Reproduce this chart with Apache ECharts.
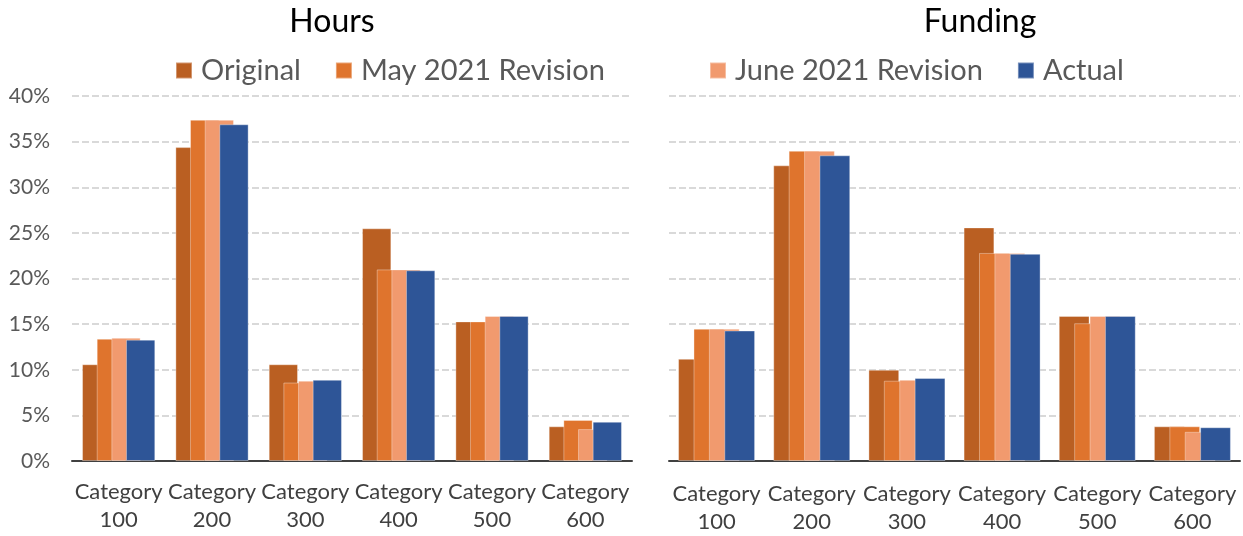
<!DOCTYPE html>
<html>
<head>
<meta charset="utf-8">
<script src="https://cdn.jsdelivr.net/npm/echarts@6/dist/echarts.min.js"></script>
<style>
  html, body { margin: 0; padding: 0; background: #fff; }
  #chart { width: 1243px; height: 536px; }
</style>
</head>
<body>
<div id="chart"></div>
<script>
// categories and values (percent)
const categories = ['Category 100', 'Category 200', 'Category 300', 'Category 400', 'Category 500', 'Category 600'];
const seriesNames = ['Original', 'May 2021 Revision', 'June 2021 Revision', 'Actual'];
const yTicks = [0, 5, 10, 15, 20, 25, 30, 35, 40];

const hoursOriginal = [10.6, 34.4, 10.6, 25.5, 15.3, 3.8];
const hoursMay      = [13.4, 37.4, 8.6, 21.0, 15.3, 4.5];
const hoursJune     = [13.5, 37.4, 8.8, 21.0, 15.9, 3.5];
const hoursActual   = [13.3, 36.9, 8.9, 20.9, 15.9, 4.3];

const fundOriginal = [11.2, 32.4, 10.0, 25.6, 15.9, 3.8];
const fundMay      = [14.5, 34.0, 8.8, 22.8, 15.1, 3.8];
const fundJune     = [14.5, 34.0, 8.9, 22.8, 15.9, 3.2];
const fundActual   = [14.3, 33.5, 9.1, 22.7, 15.9, 3.7];

const colors = ['#BA5F22', '#DF742D', '#F19A6E', '#2E5597'];
const font = 'Lato, "Open Sans", sans-serif';

let myChart = echarts.init(document.getElementById('chart'), null, { renderer: 'canvas' });

function xAxisFor(gridIndex, margin) {
  return {
    type: 'category',
    gridIndex: gridIndex,
    data: categories,
    axisTick: { show: false },
    axisLine: { show: true, lineStyle: { color: '#404040', width: 2 } },
    axisLabel: {
      interval: 0,
      margin: margin,
      color: '#404040',
      fontFamily: font,
      fontSize: 22,
      lineHeight: 28,
      formatter: v => v.replace(' ', '\n')
    }
  };
}

function yAxisFor(gridIndex, showLabels) {
  return {
    type: 'value',
    gridIndex: gridIndex,
    min: yTicks[0],
    max: yTicks[yTicks.length - 1],
    interval: 5,
    axisLine: { show: false },
    axisTick: { show: false },
    axisLabel: {
      show: showLabels,
      margin: 22,
      color: '#595959',
      fontFamily: font,
      fontSize: 21,
      formatter: '{value}%'
    },
    splitLine: { show: true, lineStyle: { color: '#D9D9D9', width: 2, type: [7, 3] } }
  };
}

function barSeries(name, idx, data, gridIndex, width) {
  return {
    name: name,
    type: 'bar',
    xAxisIndex: gridIndex,
    yAxisIndex: gridIndex,
    data: data,
    barWidth: width,
    barGap: '-50%',
    itemStyle: { color: colors[idx], borderColor: 'rgba(255,255,255,0.35)', borderWidth: 1 },
    emphasis: { disabled: true }
  };
}

myChart.setOption({
  animation: false,
  title: [
    { text: 'Hours', left: 327, top: 1, textAlign: 'center',
      textStyle: { fontFamily: font, fontSize: 32, fontWeight: 'normal', color: '#000' } },
    { text: 'Funding', left: 975, top: 1, textAlign: 'center',
      textStyle: { fontFamily: font, fontSize: 32, fontWeight: 'normal', color: '#000' } }
  ],
  legend: [
    { data: ['Original', 'May 2021 Revision'], left: 170, top: 51, itemWidth: 16, itemHeight: 16,
      itemGap: 34, icon: 'rect', selectedMode: false,
      textStyle: { fontFamily: font, fontSize: 29, color: '#595959', padding: [0, 0, 0, 4] } },
    { data: ['June 2021 Revision', 'Actual'], left: 704, top: 51, itemWidth: 16, itemHeight: 16,
      itemGap: 34, icon: 'rect', selectedMode: false,
      textStyle: { fontFamily: font, fontSize: 29, color: '#595959', padding: [0, 0, 0, 4] } }
  ],
  grid: [
    { left: 72, top: 96, width: 560, height: 365 },
    { left: 669, top: 96, width: 571, height: 365 }
  ],
  xAxis: [xAxisFor(0, 17), xAxisFor(1, 19)],
  yAxis: [yAxisFor(0, true), yAxisFor(1, false)],
  series: [
    barSeries(seriesNames[0], 0, hoursOriginal, 0, 29.3),
    barSeries(seriesNames[1], 1, hoursMay, 0, 29.3),
    barSeries(seriesNames[2], 2, hoursJune, 0, 29.3),
    barSeries(seriesNames[3], 3, hoursActual, 0, 29.3),
    barSeries(seriesNames[0], 0, fundOriginal, 1, 30.8),
    barSeries(seriesNames[1], 1, fundMay, 1, 30.8),
    barSeries(seriesNames[2], 2, fundJune, 1, 30.8),
    barSeries(seriesNames[3], 3, fundActual, 1, 30.8)
  ]
});
</script>
</body>
</html>
